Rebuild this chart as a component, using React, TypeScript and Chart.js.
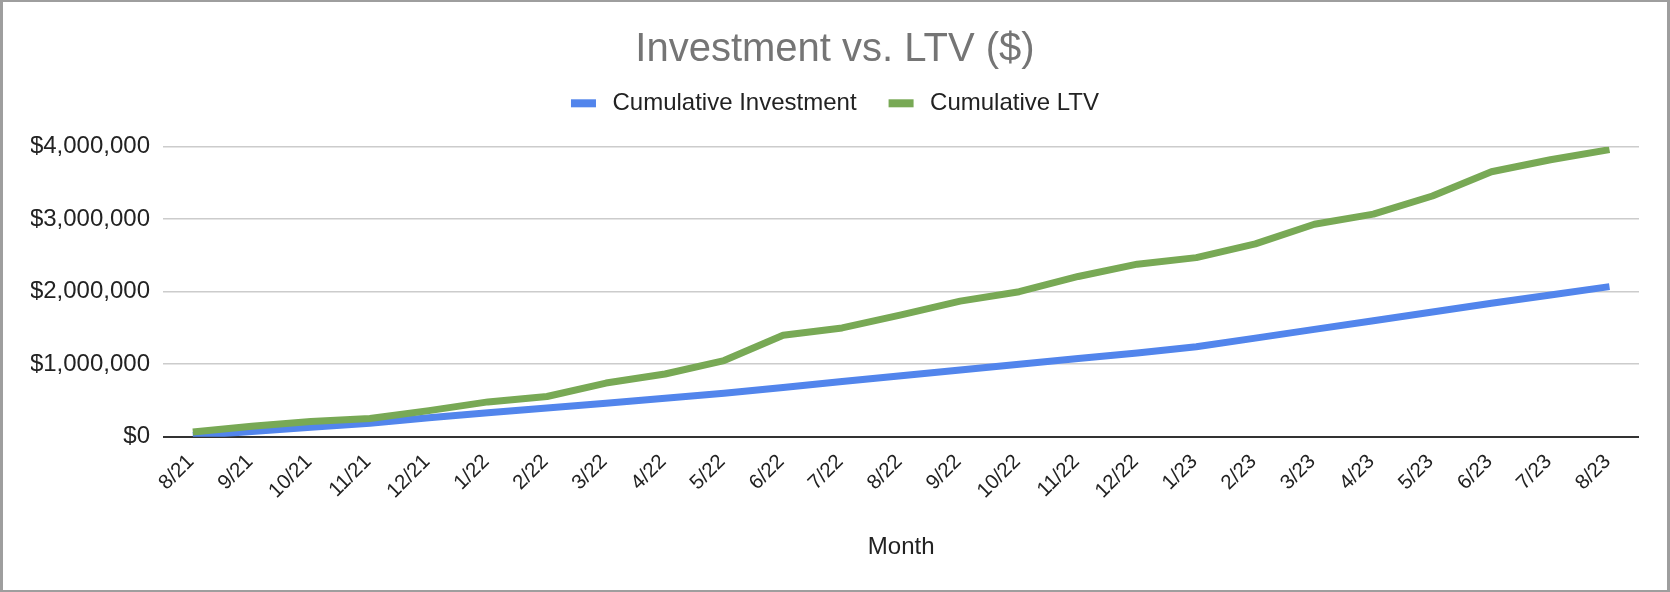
import React, { useEffect, useRef } from "react";
import { Chart, registerables } from "chart.js";

Chart.register(...registerables);

const months = [
  "8/21", "9/21", "10/21", "11/21", "12/21", "1/22", "2/22", "3/22", "4/22", "5/22",
  "6/22", "7/22", "8/22", "9/22", "10/22", "11/22", "12/22", "1/23", "2/23", "3/23",
  "4/23", "5/23", "6/23", "7/23", "8/23",
];

const cumulativeInvestment = [
  15000, 70000, 130000, 185000, 260000, 330000, 395000, 460000, 530000, 600000,
  680000, 760000, 840000, 920000, 1000000, 1080000, 1155000, 1240000, 1360000, 1480000,
  1600000, 1720000, 1840000, 1955000, 2070000,
];

const cumulativeLTV = [
  65000, 145000, 210000, 250000, 360000, 480000, 555000, 740000, 865000, 1050000,
  1400000, 1500000, 1680000, 1870000, 2000000, 2210000, 2380000, 2470000, 2660000, 2930000,
  3070000, 3320000, 3655000, 3820000, 3960000,
];

const seriesLabels = ["Cumulative Investment", "Cumulative LTV"];
const seriesColors = ["#5285EC", "#78A955"];
const yMin = 0;
const yMax = 4000000;
const yStep = 1000000;

const FONT = '"Liberation Sans", Arial, Helvetica, sans-serif';

const legendPlugin = {
  id: "sheetsLegend",
  afterDraw(chart: any) {
    const ctx = chart.ctx;
    ctx.save();
    ctx.font = `24px ${FONT}`;
    const sw = 25;
    const sh = 8;
    const gap = 16.5;
    const itemGap = 32;
    const items = chart.data.datasets.map((ds: any) => ({
      text: ds.label,
      color: ds.borderColor,
      w: ctx.measureText(ds.label).width,
    }));
    const total =
      items.reduce((s: number, it: any) => s + sw + gap + it.w, 0) + itemGap * (items.length - 1);
    let x = chart.width / 2 - total / 2;
    const baseline = 110;
    const swTop = 99.3;
    ctx.textBaseline = "alphabetic";
    ctx.textAlign = "left";
    items.forEach((it: any) => {
      ctx.fillStyle = it.color;
      ctx.fillRect(x, swTop, sw, sh);
      x += sw + gap;
      ctx.fillStyle = "#222222";
      ctx.fillText(it.text, x, baseline);
      x += it.w + itemGap;
    });
    ctx.restore();
  },
};

export default function App() {
  const canvasRef = useRef<HTMLCanvasElement | null>(null);

  useEffect(() => {
    if (!canvasRef.current) return;
    const chart = new Chart(canvasRef.current, {
      type: "line",
      data: {
        labels: months,
        datasets: [
          {
            label: seriesLabels[0],
            data: cumulativeInvestment,
            borderColor: seriesColors[0],
            backgroundColor: seriesColors[0],
            borderWidth: 7,
            pointRadius: 0,
            tension: 0,
            borderJoinStyle: "round",
            borderCapStyle: "butt",
            order: 1,
          },
          {
            label: seriesLabels[1],
            data: cumulativeLTV,
            borderColor: seriesColors[1],
            backgroundColor: seriesColors[1],
            borderWidth: 7,
            pointRadius: 0,
            tension: 0,
            borderJoinStyle: "round",
            borderCapStyle: "butt",
            order: 0,
          },
        ],
      },
      options: {
        responsive: false,
        animation: false,
        devicePixelRatio: 1,
        layout: { padding: { left: 31, right: 31, top: 0, bottom: 0 } },
        plugins: {
          legend: { display: false },
          tooltip: { enabled: false },
          title: {
            display: true,
            text: "Investment vs. LTV ($)",
            color: "#757575",
            font: { family: FONT, size: 40, weight: "normal" },
            padding: { top: 25.5, bottom: 73.2 },
          },
        },
        scales: {
          x: {
            type: "category",
            offset: true,
            grid: { display: false, drawTicks: false },
            border: { display: false },
            ticks: {
              autoSkip: false,
              minRotation: 45,
              maxRotation: 45,
              padding: 13,
              labelOffset: -2,
              color: "#222222",
              font: { family: FONT, size: 20.5 },
            },
            title: {
              display: true,
              text: "Month",
              color: "#222222",
              font: { family: FONT, size: 24 },
              padding: { top: 0, bottom: 29.8 },
            },
            afterFit: (s: any) => {
              s.height = 155.3;
            },
          },
          y: {
            min: yMin,
            max: yMax,
            grid: {
              drawTicks: false,
              color: (c: any) => (c.tick && c.tick.value === 0 ? "#333333" : "#CCCCCC"),
              lineWidth: (c: any) => (c.tick && c.tick.value === 0 ? 2 : 1.5),
            },
            border: { display: false },
            ticks: {
              stepSize: yStep,
              padding: 13.3,
              color: "#222222",
              font: { family: FONT, size: 24 },
              callback: (v: any) => "$" + Number(v).toLocaleString("en-US"),
            },
            afterFit: (s: any) => {
              s.width = 132.3;
            },
          },
        },
      },
      plugins: [legendPlugin],
    });
    return () => chart.destroy();
  }, []);

  return (
    <div
      style={{
        position: "fixed",
        left: 0,
        top: 0,
        width: 1670,
        height: 592,
        background: "#ffffff",
        overflow: "hidden",
      }}
    >
      <canvas
        ref={canvasRef}
        width={1670}
        height={592}
        style={{ position: "absolute", left: 0, top: 0, width: 1670, height: 592 }}
      />
      <div
        style={{
          position: "absolute",
          left: 0,
          top: 0,
          width: 1670,
          height: 592,
          boxSizing: "border-box",
          borderTop: "2px solid #9e9e9e",
          borderBottom: "2px solid #9e9e9e",
          borderLeft: "3px solid #9e9e9e",
          borderRight: "3px solid #9e9e9e",
          pointerEvents: "none",
        }}
      />
    </div>
  );
}
